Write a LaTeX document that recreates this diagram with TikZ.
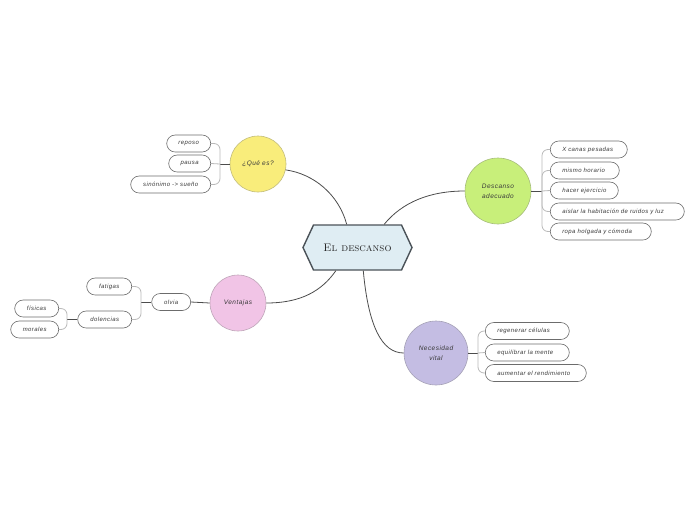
\documentclass[tikz,border=0pt]{standalone}
\usepackage{fontspec}
\newfontfamily\hand[LetterSpace=7]{Liberation Sans}
\usetikzlibrary{positioning}
\usetikzlibrary{shapes.symbols}
\definecolor{hexfill}{HTML}{DFEDF3}
\definecolor{hexdraw}{HTML}{4B5258}
\definecolor{quefill}{HTML}{F9ED7B}
\definecolor{descfill}{HTML}{C8EF7A}
\definecolor{ventfill}{HTML}{F1C4E6}
\definecolor{necfill}{HTML}{C4BDE3}
\definecolor{ink}{HTML}{3A3A3A}

\tikzset{
  topic/.style={circle, draw=#1!55!gray, fill=#1, line width=0.6pt,
    minimum size=56pt, inner sep=0pt, align=center, text=ink,
    font=\hand\itshape\fontsize{6.5}{10}\selectfont},
  leaf/.style={draw=gray!85!black, fill=white, rounded corners=8.5pt,
    line width=0.6pt, minimum height=17pt, inner xsep=6pt, inner ysep=0pt,
    text=ink, font=\hand\itshape\fontsize{6}{8}\selectfont},
  rleaf/.style={leaf, inner xsep=12pt, align=left, text width=#1},
  stem/.style={draw=black!70, line width=0.8pt},
  brace/.style={draw=gray!55, line width=0.8pt, rounded corners=6pt},
}

\begin{document}
\begin{tikzpicture}[x=1pt, y=-1pt]
    \useasboundingbox (0,0) rectangle (696,520);

    % centre
    \node[signal, signal to=west and east, signal pointer angle=130,
          draw=hexdraw, fill=hexfill, line width=1.4pt,
          minimum width=109pt, minimum height=45pt, inner sep=0pt, text=black!85,
          font=\fontsize{11}{13}\selectfont\scshape] (hex) at (357.5,247.5) {El descanso};

    % main topics
    \node[topic=quefill] (que) at (258,164) {¿Qué es?};
    \node[topic=descfill, minimum size=66pt] (desc) at (498,191) {Descanso\\adecuado};
    \node[topic=ventfill] (vent) at (238,303) {Ventajas};
    \node[topic=necfill, minimum size=64pt] (nec) at (436,353) {Necesidad\\vital};

    \draw[stem] (hex.115) .. controls +(-8,-30) and +(28,4) .. (que.-12);
    \draw[stem] (hex.41) .. controls +(18,-22) and +(-35,0) .. (desc.west);
    \draw[stem] (hex.227) .. controls +(-14,20) and +(35,0) .. (vent.east);
    \draw[stem] (hex.284) .. controls +(5,55) and +(-22,0) .. (nec.west);

    % ¿Qué es?
    \node[leaf, minimum width=44pt, anchor=east] (reposo) at (211,143.5) {reposo};
    \node[leaf, minimum width=42pt, anchor=east] (pausa) at (211,163.5) {pausa};
    \node[leaf, minimum width=80pt, anchor=east] (sinonimo) at (211,184.5) {sinónimo -> sueño};
    \coordinate (jque) at (220,164);
    \draw[stem] (que.west) -- (jque);
    \draw[brace] (jque) |- (reposo.east);
    \draw[brace] (jque) -- (pausa.east);
    \draw[brace] (jque) |- (sinonimo.east);

    % Descanso adecuado
    \node[rleaf=53pt, anchor=west] (canas) at (550,149.5) {X canas pesadas};
    \node[rleaf=45pt, anchor=west] (horario) at (550,170.5) {mismo horario};
    \node[rleaf=44pt, anchor=west] (ejercicio) at (550,190.5) {hacer ejercicio};
    \node[rleaf=110pt, anchor=west] (aislar) at (550,211.5) {aislar la habitación de ruidos y luz};
    \node[rleaf=77pt, anchor=west] (ropa) at (550,231.5) {ropa holgada y cómoda};
    \coordinate (jdesc) at (542,191);
    \draw[stem] (desc.east) -- (jdesc);
    \draw[brace] (jdesc) |- (canas.west);
    \draw[brace] (jdesc) |- (horario.west);
    \draw[brace] (jdesc) -- (ejercicio.west);
    \draw[brace] (jdesc) |- (aislar.west);
    \draw[brace] (jdesc) |- (ropa.west);

    % Ventajas
    \node[leaf, minimum width=39pt, anchor=east] (olvia) at (191,302) {olvia};
    \node[leaf, minimum width=45pt, anchor=east] (fatigas) at (132,286.5) {fatigas};
    \node[leaf, minimum width=54pt, anchor=east] (dolencias) at (132,319.5) {dolencias};
    \node[leaf, minimum width=44pt, anchor=east] (fisicas) at (59,308.5) {físicas};
    \node[leaf, minimum width=48pt, anchor=east] (morales) at (59,329.5) {morales};
    \draw[stem] (vent.west) -- (olvia.east);
    \coordinate (jolvia) at (141,302);
    \draw[stem] (olvia.west) -- (jolvia);
    \draw[brace] (jolvia) |- (fatigas.east);
    \draw[brace] (jolvia) |- (dolencias.east);
    \coordinate (jdol) at (67,319.5);
    \draw[stem] (dolencias.west) -- (jdol);
    \draw[brace] (jdol) |- (fisicas.east);
    \draw[brace] (jdol) |- (morales.east);

    % Necesidad vital
    \node[rleaf=60pt, anchor=west] (celulas) at (485,331) {regenerar células};
    \node[rleaf=60pt, anchor=west] (mente) at (485,352.5) {equilibrar la mente};
    \node[rleaf=77pt, anchor=west] (rend) at (485,373) {aumentar el rendimiento};
    \coordinate (jnec) at (478,353);
    \draw[stem] (nec.east) -- (jnec);
    \draw[brace] (jnec) |- (celulas.west);
    \draw[brace] (jnec) -- (mente.west);
    \draw[brace] (jnec) |- (rend.west);
\end{tikzpicture}
\end{document}
